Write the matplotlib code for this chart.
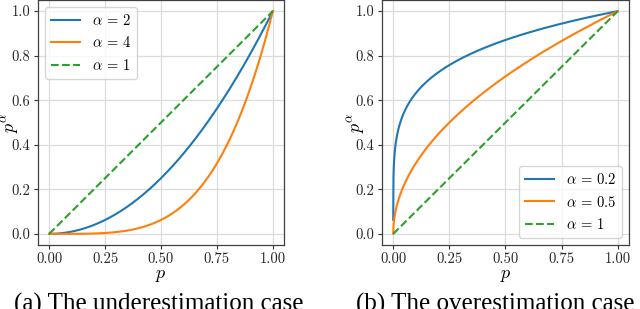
import matplotlib
matplotlib.use("Agg")
import matplotlib.pyplot as plt
import numpy as np

# exponents for each panel (alpha = 1 is the dashed reference line)
alphas_under = [2, 4]
alphas_over = [0.2, 0.5]
alpha_ref = 1
captions = ["(a) The underestimation case", "(b) The overestimation case"]
legend_locs = ["upper left", "lower right"]

# sample points of p (starts just above zero)
p_start = 1e-6
p = np.linspace(p_start, 1, 2000)

plt.rcParams['font.family'] = 'serif'
plt.rcParams['font.serif'] = ['cmr10']
plt.rcParams['mathtext.fontset'] = 'cm'
plt.rcParams['axes.formatter.use_mathtext'] = True
plt.rcParams['axes.unicode_minus'] = False

fig = plt.figure(figsize=(6.4, 3.09), dpi=100)
ax1 = fig.add_axes([38 / 640, 1 - 245 / 309, 246 / 640, 245 / 309])
ax2 = fig.add_axes([382 / 640, 1 - 245 / 309, 247 / 640, 245 / 309])

ylabel_x = [-0.068, -0.06]

for ax, alphas, loc, yx in zip([ax1, ax2], [alphas_under, alphas_over], legend_locs, ylabel_x):
    for a, c in zip(alphas, ['C0', 'C1']):
        ax.plot(p, p ** a, color=c, lw=1.5, label=r'$\alpha\,=\,%s$' % a)
    ax.plot(p, p ** alpha_ref, color='C2', ls='--', lw=1.5,
            label=r'$\alpha\,=\,%d$' % alpha_ref)

    ax.set_xticks([0, 0.25, 0.5, 0.75, 1.0])
    ax.set_xticklabels(['0.00', '0.25', '0.50', '0.75', '1.00'])
    ax.set_yticks([0, 0.2, 0.4, 0.6, 0.8, 1.0])
    ax.set_yticklabels(['0.0', '0.2', '0.4', '0.6', '0.8', '1.0'])
    ax.tick_params(labelsize=10.5, length=3, width=0.8, pad=2.5,
                   color='0.2', labelcolor='0.15')
    ax.set_xlabel(r'$p$', fontsize=13, labelpad=1)
    ax.set_ylabel(r'$p^\alpha$', fontsize=13)
    ax.yaxis.set_label_coords(yx, 0.5)
    ax.grid(True, color='#dcdcdc', lw=0.9)
    ax.set_axisbelow(True)
    for s in ax.spines.values():
        s.set_color('0.25')
        s.set_linewidth(0.9)
    ax.legend(loc=loc, fontsize=10.5)

fig.text(159 / 640, -0.004, captions[0], ha='center', va='baseline',
         fontsize=18, family='Liberation Serif')
fig.text(495 / 640, -0.004, captions[1], ha='center', va='baseline',
         fontsize=18, family='Liberation Serif')

fig.savefig('out.png', dpi=100)
